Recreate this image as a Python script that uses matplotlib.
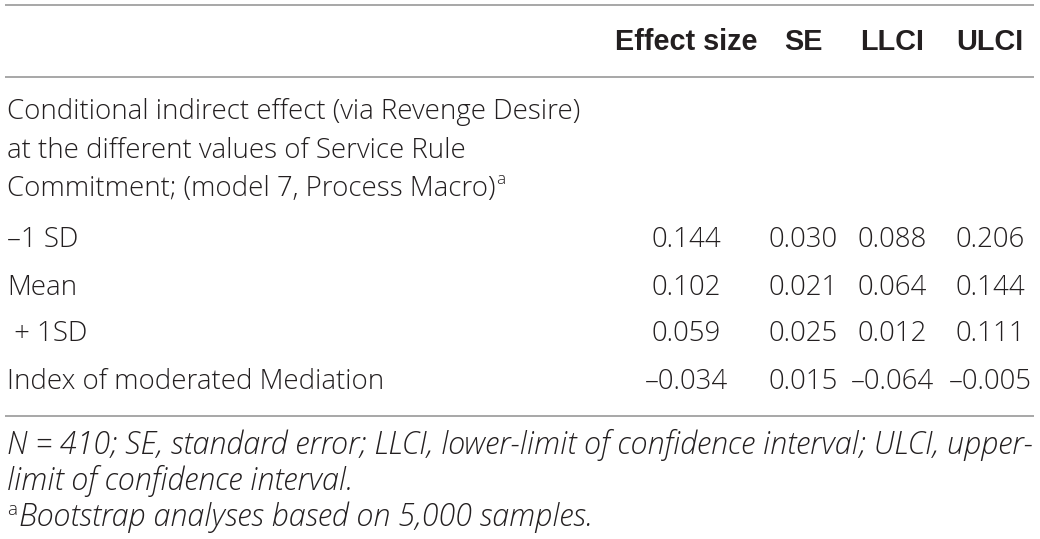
import matplotlib
matplotlib.use("Agg")
import matplotlib.pyplot as plt

# ---- data ----
columns = ["Effect size", "SE", "LLCI", "ULCI"]
section_label = ["Conditional indirect effect (via Revenge Desire)",
                 "at the different values of Service Rule",
                 "Commitment; (model 7, Process Macro)"]
row_labels = ["\u20131 SD", "Mean", " + 1SD", "Index of moderated Mediation"]
effect_size = ["0.144", "0.102", "0.059", "\u20130.034"]
se = ["0.030", "0.021", "0.025", "0.015"]
llci = ["0.088", "0.064", "0.012", "\u20130.064"]
ulci = ["0.206", "0.144", "0.111", "\u20130.005"]
footnotes = ["N = 410; SE, standard error; LLCI, lower-limit of confidence interval; ULCI, upper-",
             "limit of confidence interval.",
             "Bootstrap analyses based on 5,000 samples."]

W, H = 1040, 539
fig = plt.figure(figsize=(W / 100, H / 100), dpi=100)
ax = fig.add_axes([0, 0, 1, 1])
ax.set_xlim(0, W)
ax.set_ylim(H, 0)
ax.axis("off")
fig.canvas.draw()
renderer = fig.canvas.get_renderer()

BODY = ["Open Sans", "DejaVu Sans"]
BOLD = ["Liberation Sans", "DejaVu Sans"]
TXT = "#231f20"
LINE = "#a0a0a0"


def fit_size(s, target_w, **kw):
    t = ax.text(0, 0, s, fontsize=10, **kw)
    w = t.get_window_extent(renderer=renderer).width
    t.remove()
    return 10 * target_w / w


body_kw = dict(family=BODY, fontweight="light")
foot_kw = dict(family=BODY, fontweight="light", style="italic")
head_kw = dict(family=BOLD, fontweight="bold")

FS = fit_size("Index of moderated Mediation", 375, **body_kw)
FFS = fit_size(footnotes[0], 1025, **foot_kw)
HFS = fit_size("Effect size", 143, **head_kw)

# horizontal rules
for y in (5, 77, 416):
    ax.plot([5, 1034], [y, y], color=LINE, lw=1.3, solid_capstyle="butt")

col_x = [686, 803, 892, 990]
for cx, name in zip(col_x, columns):
    ax.text(cx, 42, name, ha="center", va="center", fontsize=HFS,
            color=TXT, **head_kw)

sec_y = [112, 151, 189]
last = None
for y, s in zip(sec_y, section_label):
    last = ax.text(7, y, s, ha="left", va="center", fontsize=FS,
                   color=TXT, **body_kw)
bb = last.get_window_extent(renderer=renderer)
ax.text(bb.x1 + 1, sec_y[-1] - 9, "a", ha="left", va="center", fontsize=FS * 0.62,
        color=TXT, **body_kw)

row_y = [240, 288, 334, 382]
for i, y in enumerate(row_y):
    ax.text(7, y, row_labels[i], ha="left", va="center", fontsize=FS,
            color=TXT, **body_kw)
    for cx, vals in zip(col_x, (effect_size, se, llci, ulci)):
        ax.text(cx, y, vals[i], ha="center", va="center", fontsize=FS,
                color=TXT, **body_kw)

foot_y = [445, 481, 517]
ax.text(7, foot_y[0], footnotes[0], ha="left", va="center", fontsize=FFS,
        color=TXT, **foot_kw)
ax.text(7, foot_y[1], footnotes[1], ha="left", va="center", fontsize=FFS,
        color=TXT, **foot_kw)
ax.text(7, foot_y[2] - 7, "a", ha="left", va="center", fontsize=FFS * 0.62,
        color=TXT, **body_kw)
ax.text(19, foot_y[2], footnotes[2], ha="left", va="center", fontsize=FFS,
        color=TXT, **foot_kw)

fig.savefig("out.png", dpi=100)
